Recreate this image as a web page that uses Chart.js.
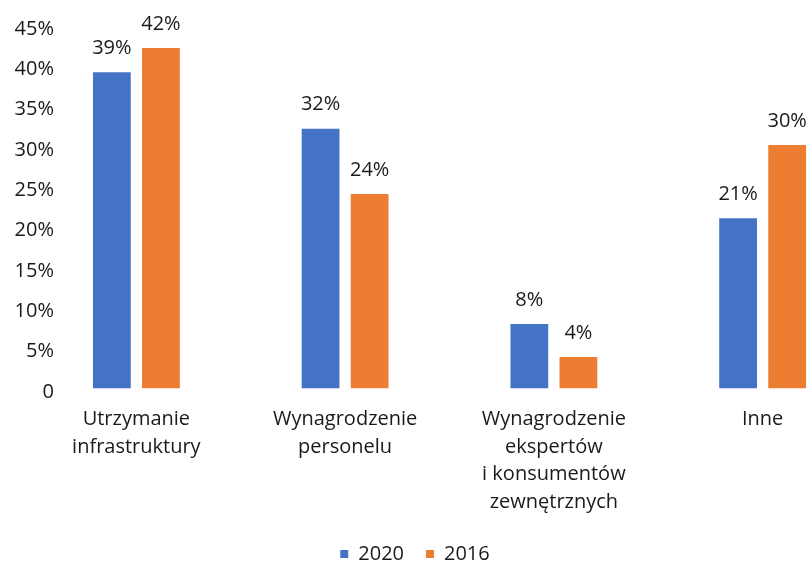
<!DOCTYPE html>
<html>
<head>
<meta charset="utf-8">
<script src="https://cdn.jsdelivr.net/npm/chart.js@4.4.0/dist/chart.umd.min.js"></script>
<style>
  html, body { margin: 0; padding: 0; background: #fff; overflow: hidden; width: 808px; height: 563px; }
  canvas { display: block; margin-left: -37px; }
</style>
</head>
<body>
<canvas id="chart" width="941" height="574"></canvas>
<script>
const categories = [
    ['Utrzymanie', 'infrastruktury'],
    ['Wynagrodzenie', 'personelu'],
    ['Wynagrodzenie', 'ekspertów', 'i konsumentów', 'zewnętrznych'],
    'Inne'
];
const seriesNames = ['2020', '2016'];
const values2020 = [39.2, 32.2, 8.0, 21.1];
const values2016 = [42.2, 24.1, 3.9, 30.2];
const yTicks = [0, 5, 10, 15, 20, 25, 30, 35, 40, 45];

Chart.defaults.font.family = "'Open Sans', sans-serif";
Chart.defaults.font.size = 20;
Chart.defaults.color = '#1a1a1a';

// value labels above the bars
const barLabels = {
    id: 'barLabels',
    afterDatasetsDraw(chart) {
        const ctx = chart.ctx;
        ctx.save();
        ctx.font = "20px 'Open Sans', sans-serif";
        ctx.fillStyle = '#1a1a1a';
        ctx.textAlign = 'center';
        ctx.textBaseline = 'middle';
        chart.data.datasets.forEach((ds, i) => {
            chart.getDatasetMeta(i).data.forEach((bar, j) => {
                ctx.fillText(Math.round(ds.data[j]) + '%', bar.x, bar.y - 24);
            });
        });
        ctx.restore();
    }
};

// y labels sit a little inside the plot, widen their clip strip
const yLabelStrip = {
    id: 'yLabelStrip',
    afterLayout(chart) {
        chart.scales.y.right = 95;
    }
};

new Chart(document.getElementById('chart').getContext('2d'), {
    type: 'bar',
    data: {
        labels: categories,
        datasets: [
            { label: seriesNames[0], data: values2020, backgroundColor: '#4472C4', borderWidth: 0 },
            { label: seriesNames[1], data: values2016, backgroundColor: '#ED7D31', borderWidth: 0 }
        ]
    },
    options: {
        responsive: false,
        animation: false,
        layout: { padding: { top: 25.5, bottom: 0, left: 0, right: 37 } },
        categoryPercentage: 0.47,
        barPercentage: 0.77,
        plugins: {
            legend: {
                position: 'bottom',
                labels: { boxWidth: 8, boxHeight: 8, padding: 22, font: { size: 20 } }
            },
            tooltip: { enabled: false }
        },
        scales: {
            x: {
                grid: { display: false, drawTicks: false },
                border: { display: false },
                ticks: { padding: 17.5, maxRotation: 0, autoSkip: false, font: { size: 20, lineHeight: 1.37 } },
                afterFit: s => { s.height = 133.5; }
            },
            y: {
                min: 0,
                max: 45,
                grid: { display: false, drawTicks: false },
                border: { display: false },
                afterBuildTicks: s => { s.ticks = yTicks.map(v => ({ value: v })); },
                ticks: {
                    padding: 4,
                    // blank first line nudges the label a few px below its gridline, like the original
                    font: { size: 20, lineHeight: '7px' },
                    callback: v => ['', v === 0 ? '0' : v + '%']
                },
                afterFit: s => { s.width = 69; }
            }
        }
    },
    plugins: [barLabels, yLabelStrip]
});
</script>
</body>
</html>
